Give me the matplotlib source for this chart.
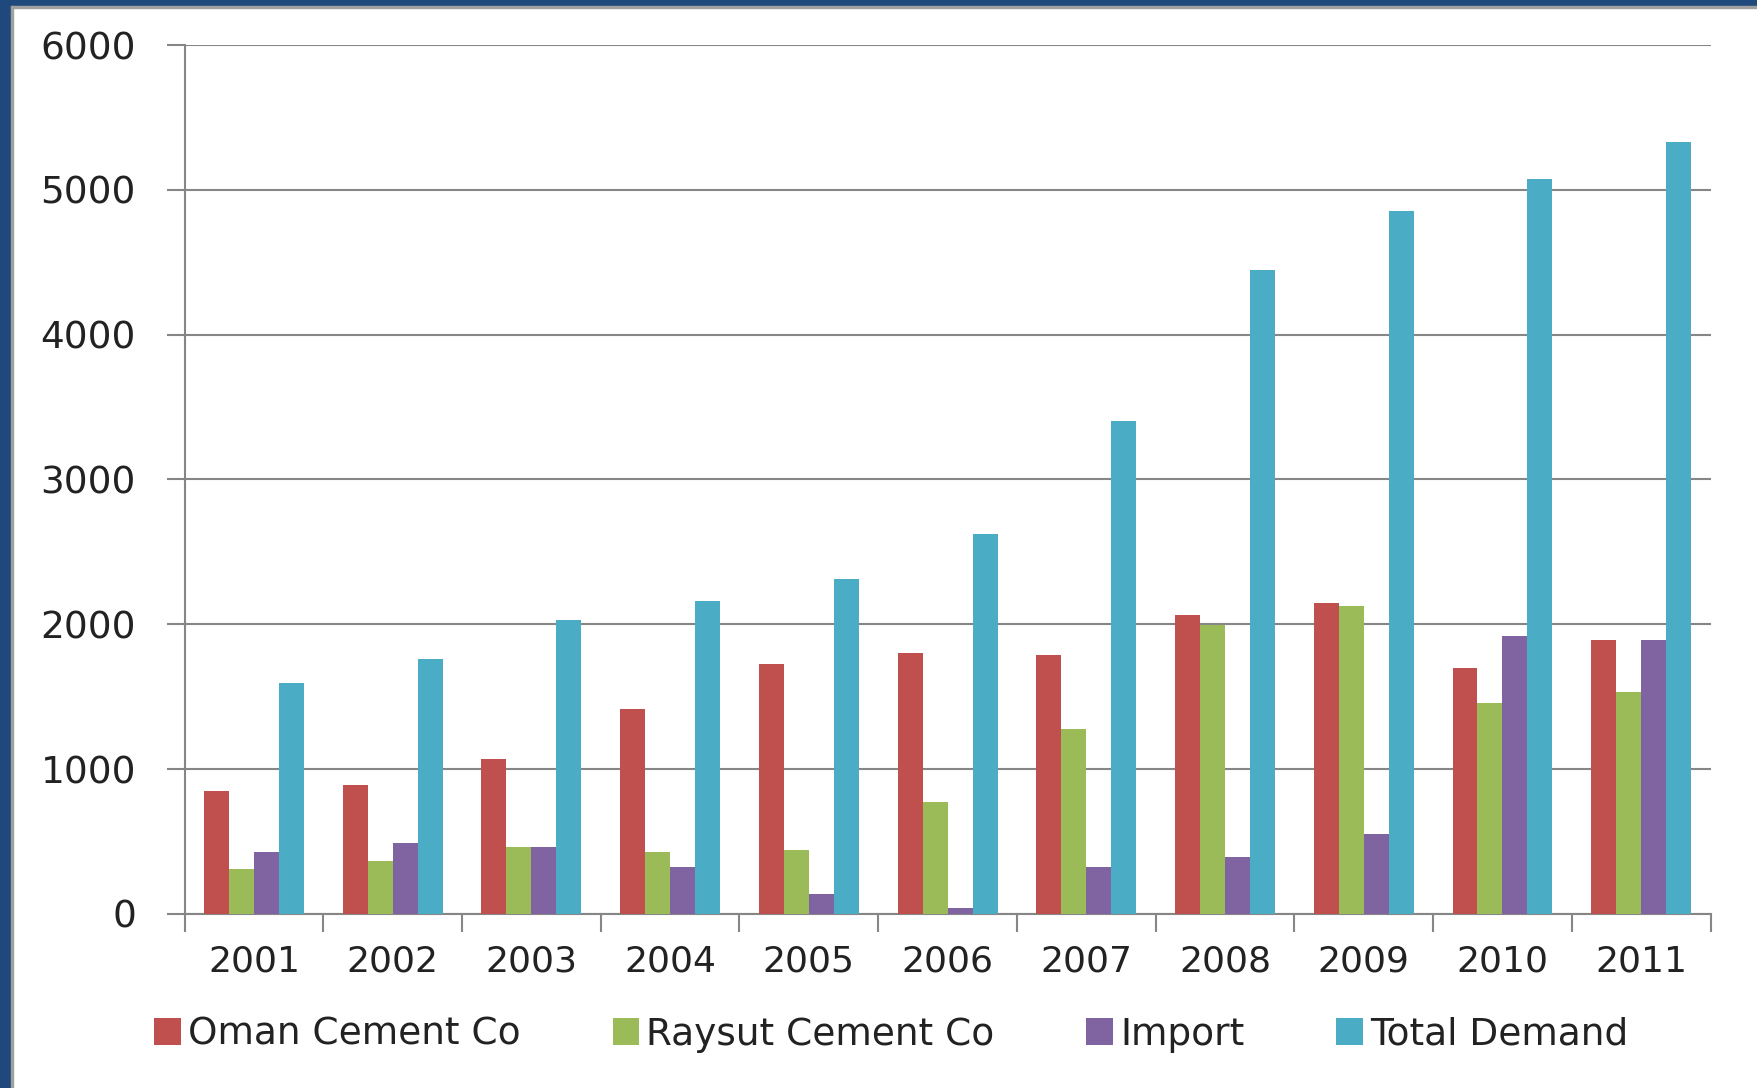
import matplotlib
matplotlib.use("Agg")
import matplotlib.pyplot as plt
import numpy as np
from matplotlib.patches import Rectangle

years = ["2001", "2002", "2003", "2004", "2005", "2006", "2007", "2008", "2009", "2010", "2011"]
oman = [850, 890, 1068, 1416, 1726, 1803, 1788, 2067, 2144, 1695, 1889]
raysut = [310, 364, 464, 425, 441, 774, 1277, 1997, 2128, 1455, 1533]
imports = [425, 488, 464, 325, 139, 39, 325, 395, 550, 1920, 1889]
total = [1595, 1757, 2028, 2159, 2314, 2624, 3406, 4450, 4853, 5077, 5333]
series_names = ["Oman Cement Co", "Raysut Cement Co", "Import", "Total Demand"]
colors = ["#C0504D", "#9BBB59", "#8064A2", "#4BACC6"]
yticks = [0, 1000, 2000, 3000, 4000, 5000, 6000]

plt.rcParams['font.family'] = ['DejaVu Sans']

fig = plt.figure(figsize=(17.58, 10.88), dpi=100)
fig.patch.set_facecolor("white")
ax = fig.add_axes([0.105, 0.160, 0.868, 0.7986])

x = np.arange(len(years))
w = 0.18
data = [oman, raysut, imports, total]
for i, (vals, c, name) in enumerate(zip(data, colors, series_names)):
    ax.bar(x + (i - 1.5) * w, vals, width=w, color=c, label=name, zorder=3)

ax.set_xlim(-0.5, len(years) - 0.5)
ax.set_ylim(0, 6000)
ax.set_yticks(yticks)
ax.set_yticklabels([str(v) for v in yticks], fontsize=27, color="#222222")
ax.set_xticks(x)
ax.set_xticklabels(years, fontsize=26, color="#222222")
ax.set_xticks(np.arange(-0.5, len(years), 1.0), minor=True)
ax.tick_params(axis="x", which="major", length=0, pad=22)
ax.tick_params(axis="x", which="minor", length=13, width=1.5, color="#868686", direction="out")
ax.tick_params(axis="y", which="major", length=13, width=1.5, color="#868686", pad=22)

ax.grid(axis="y", color="#868686", linewidth=1.5, zorder=0)
for s in ["top", "right"]:
    ax.spines[s].set_visible(False)
for s in ["left", "bottom"]:
    ax.spines[s].set_color("#868686")
    ax.spines[s].set_linewidth(1.5)

leg = fig.legend(loc="center", bbox_to_anchor=(0.507, 0.049), ncol=4, frameon=False,
                 fontsize=27, handlelength=0.7, handleheight=0.7, handletextpad=0.2,
                 columnspacing=2.45)
for t in leg.get_texts():
    t.set_color("#222222")

# dark blue frame on left and top
fig.add_artist(Rectangle((0, 0), 11 / 1758, 1, transform=fig.transFigure, color="#1F497D", zorder=10))
fig.add_artist(Rectangle((0, 1 - 6 / 1088), 1, 6 / 1088, transform=fig.transFigure, color="#1F497D", zorder=10))
fig.add_artist(Rectangle((11 / 1758, 0), 2 / 1758, 1 - 6 / 1088, transform=fig.transFigure, color="#A0A0A0", zorder=10))
fig.add_artist(Rectangle((11 / 1758, 1 - 8 / 1088), 1, 2 / 1088, transform=fig.transFigure, color="#A0A0A0", zorder=10))

fig.savefig("out.png", dpi=100)
